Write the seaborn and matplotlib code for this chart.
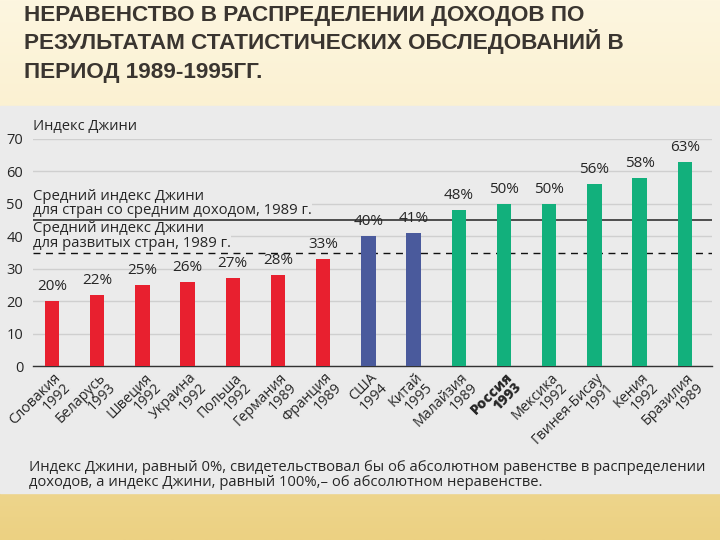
import numpy as np
import pandas as pd
import matplotlib
matplotlib.use('Agg')
import matplotlib.pyplot as plt
import seaborn as sns
from matplotlib.patches import Rectangle
from matplotlib.transforms import ScaledTranslation

# data
countries = ['Словакия', 'Беларусь', 'Швеция', 'Украина', 'Польша', 'Германия', 'Франция',
             'США', 'Китай', 'Малайзия', 'Россия', 'Мексика', 'Гвинея-Бисау', 'Кения', 'Бразилия']
years = ['1992', '1993', '1992', '1992', '1992', '1989', '1989',
         '1994', '1995', '1989', '1993', '1992', '1991', '1992', '1989']
gini = [20, 22, 25, 26, 27, 28, 33, 40, 41, 48, 50, 50, 56, 58, 63]
groups = ['низкий'] * 7 + ['средний'] * 2 + ['высокий'] * 6
middle_income_avg = 45
developed_avg = 35

GROUP_COLORS = {'низкий': '#e8202f', 'средний': '#4a5a9c', 'высокий': '#12b07c'}
TEXT = '#262626'
PANEL = '#ebebeb'

plt.rcParams['font.family'] = ['Open Sans', 'DejaVu Sans']

df = pd.DataFrame({'label': [f'{c}\n{y}' for c, y in zip(countries, years)],
                   'gini': gini, 'group': groups})

fig = plt.figure(figsize=(7.2, 5.4), dpi=100)

# beige slide background + light gray panel
bg = fig.add_axes([0, 0, 1, 1], zorder=-10)
grad = np.linspace(0, 1, 256).reshape(-1, 1)
cmap = matplotlib.colors.LinearSegmentedColormap.from_list('bg', ['#fdf6e0', '#f8e9bc', '#ecd182'])
bg.imshow(grad, aspect='auto', cmap=cmap, extent=[0, 1, 0, 1])
bg.add_patch(Rectangle((0, 47 / 540), 1, (493 - 106) / 540, color=PANEL, zorder=2))
bg.set_xlim(0, 1)
bg.set_ylim(0, 1)
bg.axis('off')

# title
title_lines = ['НЕРАВЕНСТВО В РАСПРЕДЕЛЕНИИ ДОХОДОВ ПО',
               'РЕЗУЛЬТАТАМ СТАТИСТИЧЕСКИХ ОБСЛЕДОВАНИЙ В',
               'ПЕРИОД 1989-1995ГГ.']
for i, line in enumerate(title_lines):
    fig.text(24 / 720, 1 - (21 + 28.5 * i) / 540, line, fontsize=16.2, fontweight='bold',
             family=['Liberation Sans', 'DejaVu Sans'], color='#3a3530', va='baseline')

ax = fig.add_axes([33 / 720, 1 - 366 / 540, (712 - 33) / 720, (366 - 139) / 540])
ax.set_facecolor('none')

sns.barplot(data=df, x='label', y='gini', hue='group', palette=GROUP_COLORS,
            width=0.32, legend=False, saturation=1, ax=ax, zorder=3)

ax.set_ylim(0, 70)
ax.set_xlim(-0.42, 14.6)
ax.set_yticks(range(0, 71, 10))
ax.yaxis.grid(True, color='#cfcfcf', linewidth=1, zorder=0.5)
ax.set_axisbelow(True)
ax.set_xlabel('')
ax.set_ylabel('')
for s in ['top', 'right', 'left']:
    ax.spines[s].set_visible(False)
ax.spines['bottom'].set_color('#333333')
ax.spines['bottom'].set_linewidth(1)
ax.tick_params(axis='y', length=0, pad=7, labelsize=10.5, labelcolor=TEXT)
ax.tick_params(axis='x', length=0, pad=2, labelsize=10.3, labelcolor=TEXT)

# reference lines (behind bars)
ax.axhline(middle_income_avg, color='#333333', linewidth=1.2, zorder=2)
ax.axhline(developed_avg, color='#111111', linewidth=1, dashes=(5, 4), zorder=2)

# rotated two-line country labels
offset = ScaledTranslation(1 / 72, -1 / 72, fig.dpi_scale_trans)
for i, t in enumerate(ax.get_xticklabels()):
    t.set_rotation(45)
    t.set_ha('right')
    t.set_va('top')
    t.set_rotation_mode('anchor')
    t.set_multialignment('right')
    t.set_linespacing(0.9)
    t.set_transform(t.get_transform() + offset)
    if countries[i] == 'Россия':
        t.set_fontweight('heavy')

# value labels
for c in ax.containers:
    ax.bar_label(c, fmt='%d%%', padding=5, fontsize=11, color=TEXT)

# annotations
ax.text(-0.42, 70 + 12 / 3.24, 'Индекс Джини', fontsize=10.5, color=TEXT, va='center')
box = dict(facecolor=PANEL, edgecolor='none', pad=0)
ax.text(-0.42, middle_income_avg + 0.6, 'Средний индекс Джини\nдля стран со средним доходом, 1989 г.',
        fontsize=10.7, color=TEXT, va='bottom', linespacing=0.95, bbox=box, zorder=1.5)
ax.text(-0.42, developed_avg + 0.6, 'Средний индекс Джини\nдля развитых стран, 1989 г.',
        fontsize=10.7, color=TEXT, va='bottom', linespacing=0.95, bbox=box, zorder=1.5)

# footnote
fig.text(29 / 720, 1 - 486.5 / 540,
         'Индекс Джини, равный 0%, свидетельствовал бы об абсолютном равенстве в распределении\n'
         'доходов, а индекс Джини, равный 100%,– об абсолютном неравенстве.',
         fontsize=10.6, color=TEXT, va='baseline', linespacing=1.05)

fig.savefig('out.png', dpi=100)
